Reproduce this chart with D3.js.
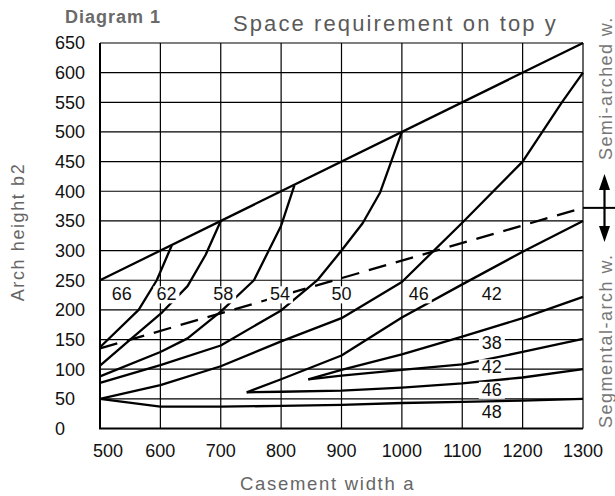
<!DOCTYPE html>
<html>
<head>
<meta charset="utf-8">
<script src="https://cdn.jsdelivr.net/npm/d3@7"></script>
<style>
  html, body { margin: 0; padding: 0; background: #fff; }
  svg { display: block; font-family: "Liberation Sans", Arial, sans-serif; }
</style>
</head>
<body>
<div id="chart"></div>
<script>
// Diagram 1 - space requirement on top, arch height b2 against casement width a

// === DATA ===
const xTicks = [500, 600, 700, 800, 900, 1000, 1100, 1200, 1300];
const yTicks = [0, 50, 100, 150, 200, 250, 300, 350, 400, 450, 500, 550, 600, 650];

// upper limit of the semi-arched windows
const semiArchEdge = [[500, 250], [1300, 650]];

// curves, [casement width a, arch height b2]
const curve66 = [[500, 137], [564, 200], [594, 250], [619, 309]];
const curve62 = [[500, 106], [550, 150], [603, 196], [645, 240], [675, 293], [700, 350]];
const curve58 = [[500, 88], [600, 129], [645, 152], [700, 197], [755, 250], [800, 342], [822, 410]];
const curve54 = [[500, 77], [600, 107], [700, 140], [800, 199], [860, 250], [900, 300], [935, 346], [964, 398], [1000, 500]];
const curve50 = [[500, 50], [600, 73], [700, 105], [800, 147], [900, 186], [1000, 247], [1100, 347], [1200, 450], [1265, 550], [1300, 600]];
const curve46 = [[743, 61], [800, 83], [900, 123], [1000, 187], [1100, 243], [1200, 298], [1300, 350]];
const curve42 = [[845, 83], [900, 99], [1000, 125], [1100, 155], [1200, 186], [1300, 222]];
const curve38 = [[845, 83], [900, 89], [1000, 99], [1100, 108], [1200, 129], [1300, 151]];
const curve42b = [[743, 61], [800, 62], [900, 64], [1000, 69], [1100, 76], [1200, 86], [1300, 100]];
const curve48 = [[500, 50], [600, 37], [700, 37], [800, 38], [900, 40], [1000, 43], [1100, 45], [1200, 47], [1300, 50]];

// dashed border between segmental and semi-arched windows
const archLimit = [[500, 135], [1300, 372]];

// curve labels (a, b2 where the number sits)
const upperLabels = ['66', '62', '58', '54', '50', '46', '42'];
const upperLabelA = [536, 610, 704, 798, 900, 1028, 1149];
const upperLabelB = 227;
const lowerLabels = ['38', '42', '46', '48'];
const lowerLabelA = 1149;
const lowerLabelB = [145, 104, 66, 28];

// === END OF DATA ===

const width = 615, height = 496;
const svg = d3.select('#chart').append('svg')
    .attr('width', width)
    .attr('height', height);

const x = d3.scaleLinear().domain([500, 1300]).range([100, 583]);
const y = d3.scaleLinear().domain([0, 650]).range([428.5, 43]);

// grid
const grid = svg.append('g').attr('stroke', '#000').attr('stroke-width', 1.2);
grid.selectAll('line.v')
    .data(xTicks)
    .enter().append('line')
    .attr('class', 'v')
    .attr('x1', d => x(d)).attr('x2', d => x(d))
    .attr('y1', y(0)).attr('y2', y(650));
grid.selectAll('line.h')
    .data(yTicks)
    .enter().append('line')
    .attr('class', 'h')
    .attr('x1', x(500)).attr('x2', x(1300))
    .attr('y1', d => y(d)).attr('y2', d => y(d));

// axis lines a bit heavier
svg.append('path')
    .attr('d', `M${x(500)},${y(650)}V${y(0)}H${x(1300)}`)
    .attr('fill', 'none')
    .attr('stroke', '#000')
    .attr('stroke-width', 2);

// tick labels
svg.append('g').selectAll('text')
    .data(yTicks)
    .enter().append('text')
    .attr('x', 55)
    .attr('y', d => y(d))
    .attr('dy', '0.36em')
    .attr('font-size', '18px')
    .attr('fill', '#111')
    .text(d => d);

svg.append('g').selectAll('text')
    .data(xTicks)
    .enter().append('text')
    .attr('x', (d, i) => x(d) + (i === 0 ? 8 : 0))
    .attr('y', 457)
    .attr('text-anchor', 'middle')
    .attr('font-size', '18px')
    .attr('fill', '#111')
    .text(d => d);

// curves
const line = d3.line().x(d => x(d[0])).y(d => y(d[1]));
const curves = [semiArchEdge, curve66, curve62, curve58, curve54, curve50,
    curve46, curve42, curve38, curve42b, curve48];

svg.append('g').selectAll('path')
    .data(curves)
    .enter().append('path')
    .attr('d', line)
    .attr('fill', 'none')
    .attr('stroke', '#000')
    .attr('stroke-width', 2.3)
    .attr('stroke-linejoin', 'round');

svg.append('path')
    .attr('d', line(archLimit))
    .attr('fill', 'none')
    .attr('stroke', '#000')
    .attr('stroke-width', 2.3)
    .attr('stroke-dasharray', '18,10');

// marker on the right: limit line and double arrow
const yLimit = y(archLimit[1][1]);
svg.append('line')
    .attr('x1', x(1300)).attr('x2', 615)
    .attr('y1', yLimit).attr('y2', yLimit)
    .attr('stroke', '#000').attr('stroke-width', 2);
svg.append('line')
    .attr('x1', 604.5).attr('x2', 604.5)
    .attr('y1', yLimit - 30).attr('y2', yLimit + 30)
    .attr('stroke', '#000').attr('stroke-width', 2.2);
svg.append('path')
    .attr('d', `M604.5,${yLimit - 34}l-5.5,16h11z M604.5,${yLimit + 34}l-5.5,-16h11z`)
    .attr('fill', '#000');

// curve labels with white boxes
function addLabel(txt, a, b) {
    const g = svg.append('g');
    const t = g.append('text')
        .attr('x', x(a))
        .attr('y', y(b))
        .attr('dy', '0.36em')
        .attr('text-anchor', 'middle')
        .attr('font-size', '18px')
        .attr('fill', '#111')
        .text(txt);
    const bb = t.node().getBBox();
    g.insert('rect', 'text')
        .attr('x', bb.x - 3).attr('y', bb.y + 2)
        .attr('width', bb.width + 6).attr('height', bb.height - 3)
        .attr('fill', '#fff');
}
upperLabels.forEach((d, i) => addLabel(d, upperLabelA[i], upperLabelB));
lowerLabels.forEach((d, i) => addLabel(d, lowerLabelA, lowerLabelB[i]));

// titles
svg.append('text')
    .attr('x', 65).attr('y', 23)
    .attr('font-size', '18px')
    .attr('font-weight', 'bold')
    .attr('letter-spacing', '1px')
    .attr('fill', '#6a6a6a')
    .text('Diagram 1');

svg.append('text')
    .attr('x', 233).attr('y', 31)
    .attr('font-size', '22px')
    .attr('letter-spacing', '2.1px')
    .attr('fill', '#5a5a5a')
    .text('Space requirement on top y');

svg.append('text')
    .attr('x', 240).attr('y', 490)
    .attr('font-size', '18.5px')
    .attr('letter-spacing', '1.7px')
    .attr('fill', '#666')
    .text('Casement width a');

svg.append('text')
    .attr('transform', 'translate(24,232) rotate(-90)')
    .attr('text-anchor', 'middle')
    .attr('font-size', '18px')
    .attr('letter-spacing', '1.6px')
    .attr('fill', '#666')
    .text('Arch height b2');

svg.append('text')
    .attr('transform', 'translate(612,160) rotate(-90)')
    .attr('font-size', '18px')
    .attr('letter-spacing', '1.4px')
    .attr('fill', '#777')
    .text('Semi-arched w.');

svg.append('text')
    .attr('transform', 'translate(612,428) rotate(-90)')
    .attr('font-size', '18px')
    .attr('letter-spacing', '1.5px')
    .attr('fill', '#777')
    .text('Segmental-arch w.');
</script>
</body>
</html>
